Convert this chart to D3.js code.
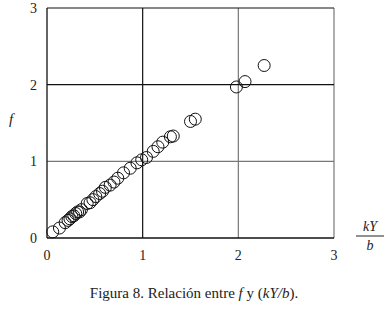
<!DOCTYPE html>
<html>
<head>
<meta charset="utf-8">
<script src="https://cdn.jsdelivr.net/npm/d3@7"></script>
<style>
  body { margin: 0; background: #fff; }
</style>
</head>
<body>
<script>
// data: kY/b vs f
var kyb = [0.06, 0.13, 0.19, 0.22, 0.24, 0.26, 0.28, 0.30, 0.32, 0.34, 0.36,
           0.42, 0.45, 0.48, 0.51, 0.55, 0.58, 0.61, 0.66, 0.70, 0.74, 0.80,
           0.87, 0.94, 0.99, 1.04, 1.11, 1.16, 1.21, 1.29, 1.32, 1.50, 1.55,
           1.98, 2.07, 2.27];
var f   = [0.08, 0.13, 0.20, 0.23, 0.25, 0.28, 0.29, 0.32, 0.34, 0.34, 0.37,
           0.45, 0.46, 0.50, 0.54, 0.58, 0.61, 0.66, 0.69, 0.73, 0.78, 0.85,
           0.91, 0.98, 1.02, 1.05, 1.13, 1.19, 1.25, 1.32, 1.33, 1.52, 1.55,
           1.97, 2.04, 2.25];
var xTicks = [0, 1, 2, 3];
var yTicks = [0, 1, 2, 3];

var W = 388, H = 309;
var SERIF = "'Liberation Serif', 'DejaVu Serif', serif";
var svg = d3.select('body').append('svg')
    .attr('width', W)
    .attr('height', H)
    .attr('font-family', SERIF);

var x = d3.scaleLinear().domain([0, 3]).range([47, 334]);
var y = d3.scaleLinear().domain([0, 3]).range([238, 8]);

// grid lines (some darker like the original)
svg.selectAll('.vgrid')
  .data(xTicks.slice(1))
  .enter().append('line')
    .attr('x1', d => x(d)).attr('x2', d => x(d))
    .attr('y1', y(0)).attr('y2', y(3))
    .attr('stroke', d => d == 1 ? '#111' : '#777')
    .attr('stroke-width', 1.2);

svg.selectAll('.hgrid')
  .data(yTicks.slice(1))
  .enter().append('line')
    .attr('x1', x(0)).attr('x2', x(3))
    .attr('y1', d => y(d)).attr('y2', d => y(d))
    .attr('stroke', d => d == 1 ? '#777' : '#111')
    .attr('stroke-width', 1.2);

// axes
svg.append('line')
  .attr('x1', x(0)).attr('x2', x(0)).attr('y1', y(0)).attr('y2', y(3))
  .attr('stroke', '#111').attr('stroke-width', 1.3);
svg.append('line')
  .attr('x1', x(0)).attr('x2', x(3)).attr('y1', y(0)).attr('y2', y(0))
  .attr('stroke', '#111').attr('stroke-width', 1.3);

// tick labels
svg.selectAll('.xl')
  .data(xTicks)
  .enter().append('text')
    .attr('x', d => x(d))
    .attr('y', 260)
    .attr('text-anchor', 'middle')
    .attr('font-size', 14)
    .attr('fill', '#222')
    .text(d => d);

svg.selectAll('.yl')
  .data(yTicks)
  .enter().append('text')
    .attr('x', 37)
    .attr('y', d => y(d) + 5)
    .attr('text-anchor', 'end')
    .attr('font-size', 14)
    .attr('fill', '#222')
    .text(d => d);

// points
var pts = kyb.map((v, i) => [v, f[i]]);
svg.selectAll('circle')
  .data(pts)
  .enter().append('circle')
    .attr('cx', d => x(d[0]))
    .attr('cy', d => y(d[1]))
    .attr('r', 6)
    .attr('fill', 'none')
    .attr('stroke', '#111')
    .attr('stroke-width', 1);

// axis titles
svg.append('text')
  .attr('x', 11).attr('y', 124)
  .attr('font-size', 15).attr('font-style', 'italic')
  .attr('text-anchor', 'middle')
  .attr('fill', '#222')
  .text('f');

var frac = svg.append('g').attr('fill', '#222');
frac.append('text')
  .attr('x', 370).attr('y', 231)
  .attr('font-size', 14).attr('font-style', 'italic')
  .attr('text-anchor', 'middle')
  .text('kY');
frac.append('line')
  .attr('x1', 356).attr('x2', 384).attr('y1', 236).attr('y2', 236)
  .attr('stroke', '#222').attr('stroke-width', 1);
frac.append('text')
  .attr('x', 370).attr('y', 250)
  .attr('font-size', 14).attr('font-style', 'italic')
  .attr('text-anchor', 'middle')
  .text('b');

// caption
var cap = svg.append('text')
  .attr('x', 194).attr('y', 298)
  .attr('text-anchor', 'middle')
  .attr('font-size', 15)
  .attr('fill', '#222');
cap.append('tspan').text('Figura 8. Relación entre ');
cap.append('tspan').attr('font-style', 'italic').text('f');
cap.append('tspan').text(' y (');
cap.append('tspan').attr('font-style', 'italic').text('kY/b');
cap.append('tspan').text(').');
</script>
</body>
</html>
